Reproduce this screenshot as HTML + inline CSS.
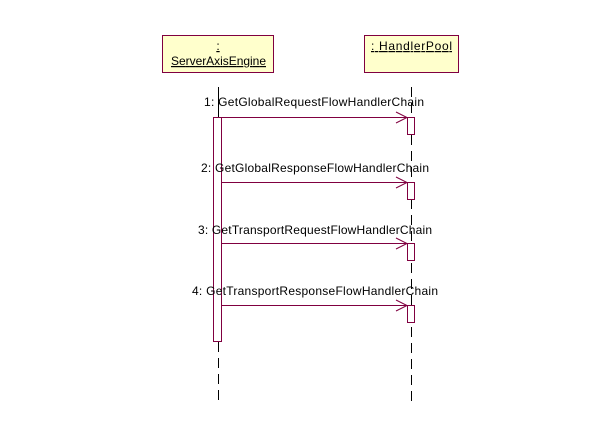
<!DOCTYPE html>
<html><head><style>
body{margin:0;background:#fff;}
svg text{font-family:"Liberation Sans",Arial,sans-serif;font-size:12px;fill:#000;}
</style></head><body>
<svg width="604" height="424" xmlns="http://www.w3.org/2000/svg">
<rect x="162.5" y="35.5" width="111" height="37" fill="#ffffcc" stroke="#800040"/>
<rect x="364.5" y="35.5" width="94" height="37" fill="#ffffcc" stroke="#800040"/>
<text x="218" y="50" text-anchor="middle" text-decoration="underline">:</text>
<text x="171" y="65" textLength="95" text-decoration="underline">ServerAxisEngine</text>
<text x="371" y="50" textLength="81" text-decoration="underline"> : HandlerPool</text>
<line x1="218.5" y1="87" x2="218.5" y2="117" stroke="#000"/>
<line x1="218.5" y1="342" x2="218.5" y2="405" stroke="#000" stroke-dasharray="10,6"/>
<line x1="411.5" y1="87" x2="411.5" y2="405" stroke="#000" stroke-dasharray="10,6"/>
<rect x="213.5" y="117.5" width="8" height="224" fill="#fff" stroke="#800040"/>
<g fill="#fff" stroke="#800040">
<rect x="407.5" y="117.5" width="7" height="17"/>
<rect x="407.5" y="182.5" width="7" height="17"/>
<rect x="407.5" y="243.5" width="7" height="17"/>
<rect x="407.5" y="305.5" width="7" height="17"/>
</g>
<g stroke="#800040" fill="none">
<path d="M222 117.5H407M396 112L407 117.5L396 123"/>
<path d="M222 182.5H407M396 177L407 182.5L396 188"/>
<path d="M222 243.5H407M396 238L407 243.5L396 249"/>
<path d="M222 305.5H407M396 300L407 305.5L396 311"/>
</g>
<text x="204" y="106" textLength="220">1: GetGlobalRequestFlowHandlerChain</text>
<text x="201" y="172" textLength="228">2: GetGlobalResponseFlowHandlerChain</text>
<text x="198" y="234" textLength="234">3: GetTransportRequestFlowHandlerChain</text>
<text x="192" y="295" textLength="246">4: GetTransportResponseFlowHandlerChain</text>
</svg>
</body></html>
